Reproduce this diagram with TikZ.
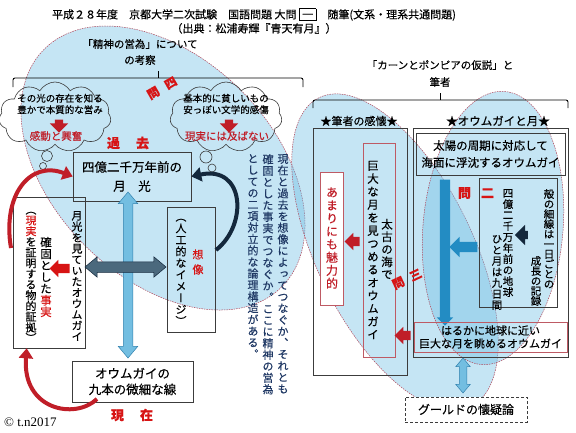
\documentclass[tikz,border=0pt]{standalone}
\usepackage{fontspec}
\setmainfont{Noto Sans CJK JP}[FakeBold=0.35]
\newfontfamily\jpv[RawFeature=+vert,FakeBold=0.35]{Noto Sans CJK JP}
\newfontfamily\serifont{Liberation Serif}
\usetikzlibrary{shapes.symbols,shapes.arrows,arrows.meta}
\definecolor{ellfill}{RGB}{110,190,228}
\definecolor{elldash}{RGB}{175,70,90}
\definecolor{navy}{RGB}{31,56,100}
\definecolor{jred}{RGB}{215,20,20}
\definecolor{dred}{RGB}{192,30,40}
\definecolor{boxgray}{RGB}{60,60,60}
\definecolor{pinkb}{RGB}{190,90,100}
\definecolor{lblue}{RGB}{201,231,245}
\definecolor{arrlb}{RGB}{115,190,225}
\definecolor{arrlbd}{RGB}{50,130,175}
\definecolor{arrslate}{RGB}{75,105,125}
\definecolor{arrblue}{RGB}{35,140,195}
\definecolor{darknavy}{RGB}{20,40,60}
\ExplSyntaxOn
\NewDocumentCommand{\vc}{ O{.} m }
  {
    \tl_map_inline:nn {#2}
      { \hbox_to_wd:nn { 1em } { \hss \textcolor{#1}{##1} \hss } }
  }
\ExplSyntaxOff
\newcommand{\vcol}[2][11pt]{\vbox{\baselineskip=#1\relax\lineskiplimit=-\maxdimen\lineskip=0pt #2}}
\tikzset{
  ell/.style={fill=ellfill, fill opacity=0.4, draw=elldash, draw opacity=1, line width=0.5pt, dash pattern=on 1.5pt off 1pt},
  gbox/.style={draw=boxgray, line width=0.6pt, inner sep=0pt},
  rbox/.style={draw=pinkb, line width=0.6pt, inner sep=0pt},
  vtxt/.style={inner sep=0pt, font=\jpv\fontsize{11}{11}\selectfont},
  htxt/.style={inner sep=0pt, align=center},
  cloudbox/.style={cloud, draw=boxgray, line width=0.6pt, cloud puffs=11, cloud puff arc=120, minimum width=112pt, minimum height=70pt, cloud ignores aspect, inner sep=0pt},
  sarr/.style={single arrow, inner sep=0pt, inner ysep=#1, single arrow tip angle=90},
  darr/.style={double arrow, inner sep=0pt, inner ysep=#1, double arrow tip angle=80},
  curvarr/.style={line width=4pt, -{Triangle[length=10pt,width=14pt]}},
  toi/.style={text=jred, inner sep=0pt, font=\fontsize{12}{12}\selectfont\bfseries},
  era/.style={text=jred, inner sep=0pt, font=\fontsize{13}{13}\selectfont\bfseries}
}
\begin{document}
\begin{tikzpicture}[x=1pt,y=-1pt]
\useasboundingbox (0,0) rectangle (576,432);
\fill[white] (0,0) rectangle (576,432);
% background ellipses
\path[ell, rotate around={-45:(163,168)}] (163,168) ellipse [x radius=168, y radius=110];
\path[ell, rotate around={-63.8:(395,252)}] (395,252) ellipse [x radius=172, y radius=78];
\path[ell, rotate around={-5:(493,228)}] (493,228) ellipse [x radius=70, y radius=137];
% title
\node[htxt, font=\fontsize{11}{14}\selectfont] (title) at (254,21) {平成２８年度　京都大学二次試験　国語問題 大問 {\setlength\fboxsep{1pt}\fbox{\vphantom{国}\,一\,}}　随筆(文系・理系共通問題)\\（出典：松浦寿輝『青天有月』）};
% headers and brackets
\node[htxt, font=\fontsize{10.5}{16}\selectfont] (hdrL) at (140,52) {「精神の営為」について\\の考察};
\node[htxt, font=\fontsize{10.5}{17}\selectfont] (hdrR) at (440,73.5) {「カーンとポンピアの仮説」と\\筆者};
\draw[line width=0.9pt, rounded corners=2pt] (13,87) -- (13,78) -- (303,78) -- (303,87);
\draw[line width=0.9pt] (158,78) -- (158,71);
\draw[line width=0.9pt, rounded corners=2pt] (313,108) -- (313,100) -- (568,100) -- (568,108);
\draw[line width=0.9pt] (440,100) -- (440,93);
% clouds
\node[cloudbox] (cloudL) at (55,117) {};
\node[cloudbox] (cloudR) at (226,117) {};
\draw[boxgray, line width=0.6pt] (47,156) circle [radius=5.5pt] (43,166) circle [radius=3.5pt];
\draw[boxgray, line width=0.6pt] (206,157) circle [radius=6pt] (212,168) circle [radius=4pt];
\node[htxt, font=\fontsize{9.5}{11.5}\selectfont] (cLt) at (60,104) {その光の存在を知る\\豊かで本質的な営み};
\node[sarr=4pt, single arrow head extend=5pt, fill=dred, rotate=-90, minimum height=13pt] (cLa) at (59,124) {};
\node[htxt, text=dred, font=\fontsize{10.5}{10.5}\selectfont] (cLr) at (56,136) {感動と興奮};
\node[htxt, font=\fontsize{9.5}{11.5}\selectfont] (cRt) at (226,104) {基本的に貧しいもの\\安っぽい文学的感傷};
\node[sarr=4pt, single arrow head extend=5pt, fill=dred, rotate=-90, minimum height=13pt] (cRa) at (229,124) {};
\node[htxt, text=dred, font=\fontsize{10.5}{10.5}\selectfont] (cRr) at (227,136) {現実には及ばない};
\node[toi, rotate=30] (q4) at (162,88) {問\hspace{8pt}四};
% past / present
\node[era] (kako) at (128,143) {過\hspace{16pt}去};
\node[era] (genzai) at (132,415) {現\hspace{16pt}在};
% central boxes
\node[gbox, fill=lblue, minimum width=118pt, minimum height=49pt, align=center, font=\fontsize{12.5}{19}\selectfont] (boxC) at (132,176.5) {四億二千万年前の\\月　光};
\node[gbox, fill=white, minimum width=121pt, minimum height=41pt, align=center, font=\fontsize{12.5}{16}\selectfont] (boxB) at (132.5,381.5) {オウムガイの\\九本の微細な線};
\node[gbox, minimum width=72pt, minimum height=151pt] (boxL) at (49,272.5) {};
\node[vtxt] (l1) at (77,276) {\vcol[11pt]{\vc{月光を見ていたオウムガイ}}};
\node[vtxt, font=\jpv\fontsize{11.5}{11.5}\selectfont] (l2) at (46,277) {\vcol[11.6pt]{\vc{確固とした}\vc[jred]{事実}}};
\node[vtxt] (l3) at (31,277) {\vcol[10.7pt]{\vc{（}\vc[jred]{現実}\vc{を証明する物的証拠）}}};
\node[sarr=4.5pt, single arrow head extend=4pt, fill=jred, rotate=180, minimum height=20pt] (lArr) at (62,268.5) {};
\node[gbox, minimum width=48pt, minimum height=125pt] (boxI) at (191,269.5) {};
\node[vtxt] (i1) at (181,272) {\vcol[11.6pt]{\vc{（人工的なイメージ）}}};
\node[vtxt] (i2) at (198,262) {\vcol[15pt]{\vc[jred]{想像}}};
\node[darr=4.5pt, double arrow head extend=5pt, fill=arrlb, draw=arrlbd, line width=0.5pt, rotate=90, minimum height=166pt] (vArr) at (128,275) {};
\node[darr=5pt, double arrow head extend=5pt, fill=arrslate, draw=darknavy, line width=0.5pt, minimum height=81pt] (hArr) at (125.5,267) {};
% curved arrows
\coordinate (rt1) at (11,248);
\draw[dred, curvarr] (rt1) .. controls (2,195) and (30,160) .. (boxC.west);
\coordinate (rt2) at (97,399);
\draw[dred, curvarr] (rt2) .. controls (75,420) and (22,410) .. ([xshift=14pt]boxL.south west);
\coordinate (nt) at (216,250);
\draw[darknavy, curvarr] (nt) .. controls (248,225) and (245,165) .. (boxC.east);
% navy vertical text
\node[vtxt, anchor=north, text=navy] (n1) at (283,154) {\vcol[11.5pt]{\vc{現在と過去を想像によってつなぐか、それとも}}};
\node[vtxt, anchor=north, text=navy] (n2) at (268,154) {\vcol[11.5pt]{\vc{確固とした事実でつなぐか。ここに精神の営為}}};
\node[vtxt, anchor=north, text=navy] (n3) at (253,154) {\vcol[11.5pt]{\vc{としての二項対立的な論理構造がある。}}};
% right part
\node[htxt, font=\fontsize{11}{11}\selectfont] (starL) at (359,121) {★筆者の感懐★};
\node[htxt, font=\fontsize{11.5}{11.5}\selectfont] (starR) at (498,121) {★オウムガイと月★};
\node[gbox, minimum width=94pt, minimum height=247pt] (boxGL) at (360,251.5) {};
\node[gbox, minimum width=155pt, minimum height=229pt] (boxGR) at (490.5,242.5) {};
\node[rbox, fill=white, minimum width=23pt, minimum height=133pt] (boxMi) at (331.5,238.5) {};
\node[vtxt, font=\jpv\fontsize{12}{12}\selectfont] (mi) at (332,238) {\vcol[13pt]{\vc[dred]{あまりにも魅力的}}};
\node[rbox, minimum width=32pt, minimum height=214pt] (boxKy) at (379,250) {};
\node[vtxt, font=\jpv\fontsize{11.5}{11.5}\selectfont] (ky1) at (387,249) {\vcol[12.5pt]{\vc{太古の海で}}};
\node[vtxt, font=\jpv\fontsize{11.5}{11.5}\selectfont] (ky2) at (373,250) {\vcol[13pt]{\vc{巨大な月を見つめるオウムガイ}}};
\node[sarr=4.5pt, single arrow head extend=4pt, fill=dred, rotate=180, minimum height=15pt] (kyArr) at (354.5,241.5) {};
\node[sarr=4.5pt, single arrow head extend=4pt, fill=dred, rotate=180, minimum height=16pt] (farArr) at (405,335.5) {};
\node[toi, rotate=25] (q3) at (407,279) {問\hspace{7pt}三};
\node[gbox, minimum width=149pt, minimum height=42pt, align=center, font=\fontsize{11.5}{17}\selectfont] (boxSun) at (490.5,154) {太陽の周期に対応して\\海面に浮沈するオウムガイ};
\node[sarr=5pt, single arrow head extend=3pt, fill=arrblue, rotate=-90, minimum height=146pt] (dnArr) at (445,250) {};
\node[sarr=5pt, single arrow head extend=5pt, fill=arrblue, rotate=180, minimum height=28pt] (lfArr) at (466,247) {};
\node[gbox, minimum width=78pt, minimum height=129pt] (boxShell) at (518,242.5) {};
\node[vtxt, anchor=north, font=\jpv\fontsize{10.5}{10.5}\selectfont] (sA) at (549,189) {\vcol[10pt]{\vc{殻の細線は一日ごとの}}};
\node[vtxt, anchor=south, font=\jpv\fontsize{10.5}{10.5}\selectfont] (sB) at (536,306) {\vcol[10pt]{\vc{成長の記録}}};
\node[vtxt, anchor=north, font=\jpv\fontsize{10.5}{10.5}\selectfont] (sC) at (508,189) {\vcol[11pt]{\vc{四億二千万年前の地球}}};
\node[vtxt, anchor=south, font=\jpv\fontsize{10.5}{10.5}\selectfont] (sD) at (497,310) {\vcol[11pt]{\vc{ひと月は九日間}}};
\node[sarr=4pt, single arrow head extend=6pt, fill=darknavy, rotate=180, minimum height=13pt] (nvArr) at (523.5,235) {};
\node[toi, font=\fontsize{13}{13}\selectfont\bfseries] (q2) at (476,193) {問\hspace{10pt}二};
\node[rbox, minimum width=153pt, minimum height=30pt, align=center, font=\fontsize{11}{13}\selectfont] (boxFar) at (490.5,337) {はるかに地球に近い\\巨大な月を眺めるオウムガイ};
\node[darr=3.5pt, double arrow head extend=3.5pt, fill=arrlb, draw=arrlbd, line width=0.5pt, rotate=90, minimum height=35pt] (gArr) at (463,375.5) {};
\node[draw=boxgray, densely dashed, line width=0.6pt, fill=white, minimum width=122pt, minimum height=25pt, font=\fontsize{12}{12}\selectfont] (gould) at (466,409.5) {グールドの懐疑論};
\node[anchor=west, inner sep=0pt, font=\serifont\fontsize{13}{13}\selectfont] (copy) at (4,422) {© t.n2017};
\end{tikzpicture}
\end{document}
